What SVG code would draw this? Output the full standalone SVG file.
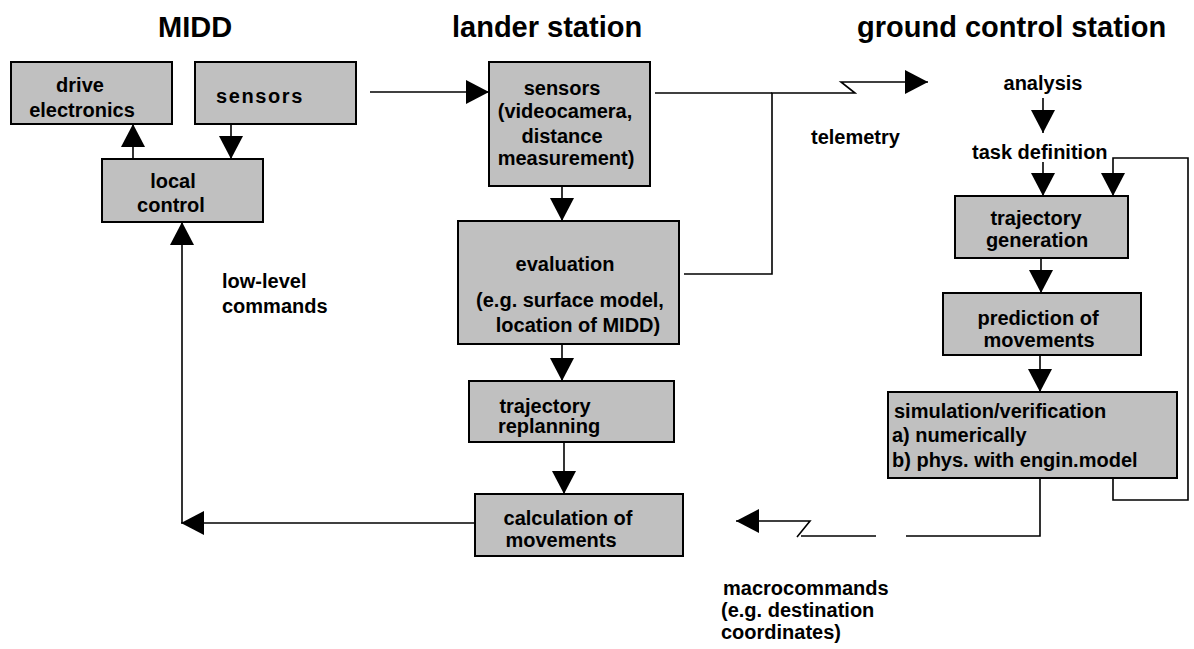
<svg xmlns="http://www.w3.org/2000/svg" width="1194" height="649" viewBox="0 0 1194 649">
  <style>
    text { font-family: "Liberation Sans", Arial, sans-serif; font-weight: bold; fill: #000; }
    .title { font-size: 29px; }
    .lbl { font-size: 20px; }
    .c { text-anchor: middle; }
    .box { fill: #c0c0c0; stroke: #000; stroke-width: 2; }
    .wire { fill: none; stroke: #000; stroke-width: 1.6; }
  </style>
  <defs>
    <marker id="head" markerUnits="userSpaceOnUse" markerWidth="24" markerHeight="24" refX="23" refY="12" orient="auto" viewBox="0 0 24 24">
      <path d="M0,0 L23,12 L0,24 z" fill="#000"/>
    </marker>
  </defs>

  <!-- column titles -->
  <text class="title" x="158" y="37">MIDD</text>
  <text class="title" x="452" y="37">lander station</text>
  <text class="title" x="857" y="37" font-size="30">ground control station</text>

  <!-- MIDD column -->
  <g id="drive-electronics">
    <rect class="box" x="11" y="62" width="161" height="62"/>
    <text class="lbl c" x="80" y="92">drive</text>
    <text class="lbl c" x="82" y="117">electronics</text>
  </g>
  <g id="midd-sensors">
    <rect class="box" x="195" y="62" width="161" height="62"/>
    <text class="lbl c" x="260" y="103" letter-spacing="1.6">sensors</text>
  </g>
  <g id="local-control">
    <rect class="box" x="102" y="159" width="161" height="63"/>
    <text class="lbl c" x="173" y="188">local</text>
    <text class="lbl c" x="171" y="212">control</text>
  </g>

  <!-- lander station column -->
  <g id="lander-sensors">
    <rect class="box" x="489" y="62" width="161" height="124"/>
    <text class="lbl c" x="562" y="95">sensors</text>
    <text class="lbl c" x="565" y="118">(videocamera,</text>
    <text class="lbl c" x="562" y="143">distance</text>
    <text class="lbl c" x="566" y="165">measurement)</text>
  </g>
  <g id="evaluation">
    <rect class="box" x="458" y="221" width="221" height="123"/>
    <text class="lbl c" x="565" y="271">evaluation</text>
    <text class="lbl c" x="570" y="307">(e.g. surface model,</text>
    <text class="lbl c" x="578" y="332">location of MIDD)</text>
  </g>
  <g id="trajectory-replanning">
    <rect class="box" x="469" y="381" width="205" height="61"/>
    <text class="lbl c" x="545" y="413">trajectory</text>
    <text class="lbl c" x="549" y="433">replanning</text>
  </g>
  <g id="calculation-of-movements">
    <rect class="box" x="475" y="494" width="208" height="62"/>
    <text class="lbl c" x="568" y="525">calculation of</text>
    <text class="lbl c" x="561" y="547">movements</text>
  </g>

  <!-- ground control station column -->
  <g id="analysis">
    <text class="lbl c" x="1043" y="90">analysis</text>
  </g>
  <g id="task-definition">
    <text class="lbl" x="972" y="159">task definition</text>
  </g>
  <g id="trajectory-generation">
    <rect class="box" x="955" y="196" width="173" height="62"/>
    <text class="lbl c" x="1036" y="225">trajectory</text>
    <text class="lbl c" x="1037" y="247">generation</text>
  </g>
  <g id="prediction-of-movements">
    <rect class="box" x="943" y="293" width="198" height="62"/>
    <text class="lbl c" x="1038" y="325">prediction of</text>
    <text class="lbl c" x="1039" y="347">movements</text>
  </g>
  <g id="simulation-verification">
    <rect class="box" x="888" y="392" width="289" height="86"/>
    <text class="lbl" x="894" y="418">simulation/verification</text>
    <text class="lbl" x="892" y="442">a) numerically</text>
    <text class="lbl" x="892" y="467">b) phys. with engin.model</text>
  </g>

  <!-- flow labels -->
  <text class="lbl" x="811" y="144">telemetry</text>
  <text class="lbl" x="222" y="288">low-level</text>
  <text class="lbl" x="222" y="313">commands</text>
  <text class="lbl" x="723" y="595">macrocommands</text>
  <text class="lbl" x="721" y="617">(e.g. destination</text>
  <text class="lbl" x="721" y="639">coordinates)</text>

  <!-- connectors -->
  <g id="connectors">
    <path class="wire" d="M231,124 V159" marker-end="url(#head)"/>
    <path class="wire" d="M133,159 V124" marker-end="url(#head)"/>
    <path class="wire" d="M370,92 H489" marker-end="url(#head)"/>
    <path class="wire" d="M562,186 V221" marker-end="url(#head)"/>
    <path class="wire" d="M562,344 V381" marker-end="url(#head)"/>
    <path class="wire" d="M564,442 V494" marker-end="url(#head)"/>
    <path class="wire" d="M475,523 H181" marker-end="url(#head)"/>
    <path class="wire" d="M182,523 V222" marker-end="url(#head)"/>
    <!-- telemetry link -->
    <path class="wire" d="M655,93 H772"/>
    <path class="wire" d="M684,274 H772 V93 H855 L841,82 H928" marker-end="url(#head)"/>
    <!-- ground station flow -->
    <path class="wire" d="M1043,98 V133" marker-end="url(#head)"/>
    <path class="wire" d="M1043,162 V196" marker-end="url(#head)"/>
    <path class="wire" d="M1113,478 V500 H1188 V158 H1113 V196" marker-end="url(#head)"/>
    <path class="wire" d="M1041,258 V293" marker-end="url(#head)"/>
    <path class="wire" d="M1040,355 V392" marker-end="url(#head)"/>
    <!-- macrocommand link -->
    <path class="wire" d="M1040,478 V536 H906"/>
    <path class="wire" d="M876,536 H801"/>
    <path class="wire" d="M797,537 L810,521 H736" marker-end="url(#head)"/>
  </g>
</svg>
